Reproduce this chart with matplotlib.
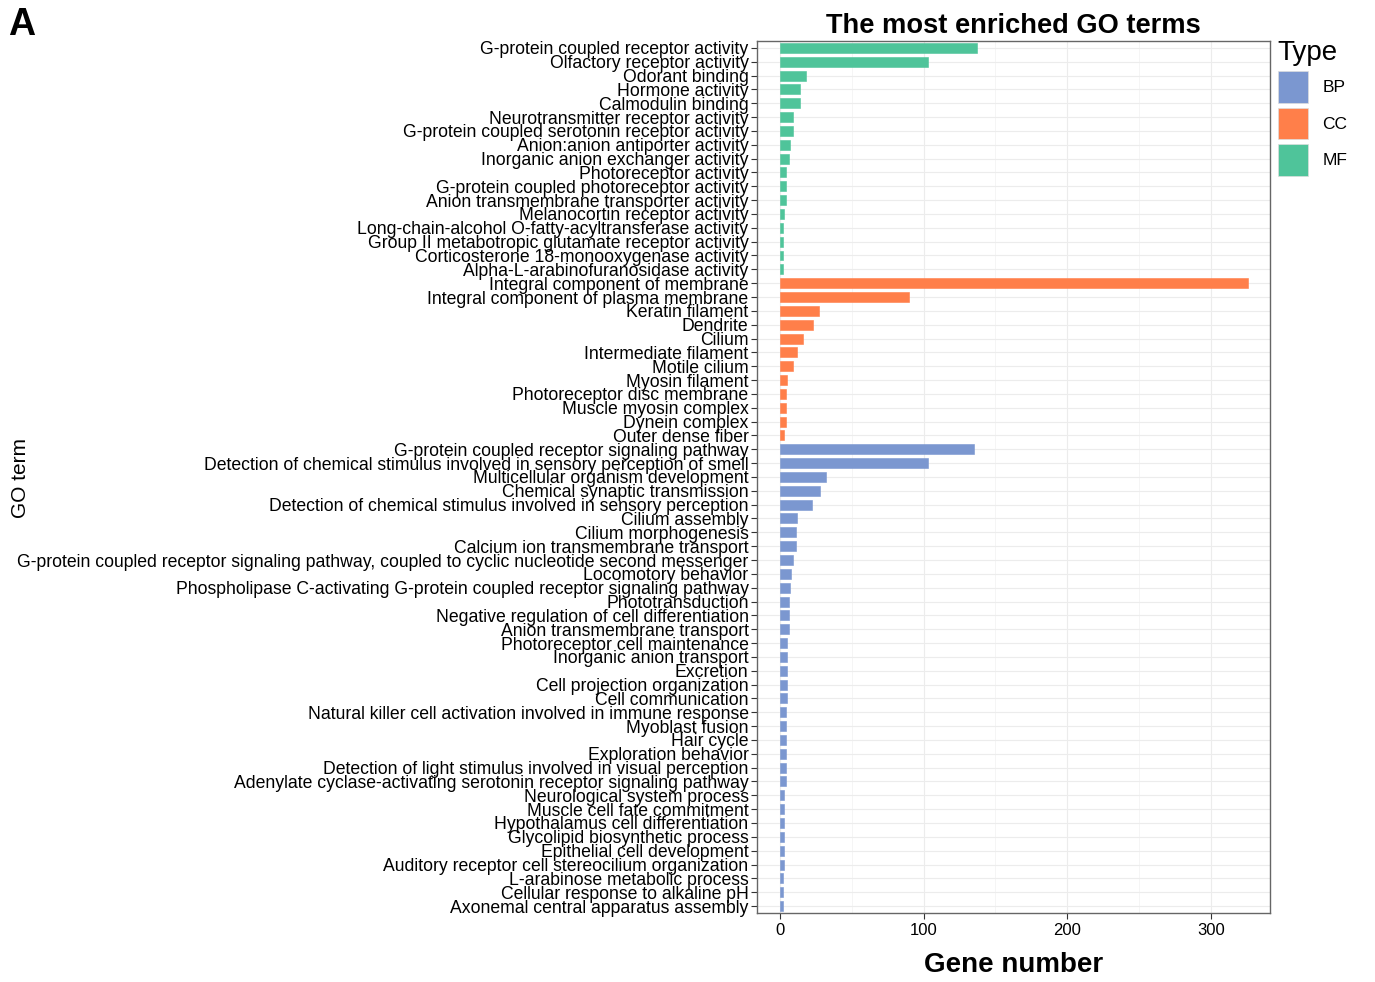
import matplotlib
matplotlib.use("Agg")
import matplotlib.pyplot as plt
from matplotlib.patches import Patch
from matplotlib.ticker import MultipleLocator

plt.rcParams['font.family'] = ['Liberation Sans', 'DejaVu Sans']

# GO terms per ontology, in plotting order (top to bottom)
mf_terms = [
    "G-protein coupled receptor activity",
    "Olfactory receptor activity",
    "Odorant binding",
    "Hormone activity",
    "Calmodulin binding",
    "Neurotransmitter receptor activity",
    "G-protein coupled serotonin receptor activity",
    "Anion:anion antiporter activity",
    "Inorganic anion exchanger activity",
    "Photoreceptor activity",
    "G-protein coupled photoreceptor activity",
    "Anion transmembrane transporter activity",
    "Melanocortin receptor activity",
    "Long-chain-alcohol O-fatty-acyltransferase activity",
    "Group II metabotropic glutamate receptor activity",
    "Corticosterone 18-monooxygenase activity",
    "Alpha-L-arabinofuranosidase activity",
]
mf_counts = [137, 103, 18, 14, 14, 9, 9, 7, 6, 4, 4, 4, 3, 2, 2, 2, 2]

cc_terms = [
    "Integral component of membrane",
    "Integral component of plasma membrane",
    "Keratin filament",
    "Dendrite",
    "Cilium",
    "Intermediate filament",
    "Motile cilium",
    "Myosin filament",
    "Photoreceptor disc membrane",
    "Muscle myosin complex",
    "Dynein complex",
    "Outer dense fiber",
]
cc_counts = [326, 90, 27, 23, 16, 12, 9, 5, 4, 4, 4, 3]

bp_terms = [
    "G-protein coupled receptor signaling pathway",
    "Detection of chemical stimulus involved in sensory perception of smell",
    "Multicellular organism development",
    "Chemical synaptic transmission",
    "Detection of chemical stimulus involved in sensory perception",
    "Cilium assembly",
    "Cilium morphogenesis",
    "Calcium ion transmembrane transport",
    "G-protein coupled receptor signaling pathway, coupled to cyclic nucleotide second messenger",
    "Locomotory behavior",
    "Phospholipase C-activating G-protein coupled receptor signaling pathway",
    "Phototransduction",
    "Negative regulation of cell differentiation",
    "Anion transmembrane transport",
    "Photoreceptor cell maintenance",
    "Inorganic anion transport",
    "Excretion",
    "Cell projection organization",
    "Cell communication",
    "Natural killer cell activation involved in immune response",
    "Myoblast fusion",
    "Hair cycle",
    "Exploration behavior",
    "Detection of light stimulus involved in visual perception",
    "Adenylate cyclase-activating serotonin receptor signaling pathway",
    "Neurological system process",
    "Muscle cell fate commitment",
    "Hypothalamus cell differentiation",
    "Glycolipid biosynthetic process",
    "Epithelial cell development",
    "Auditory receptor cell stereocilium organization",
    "L-arabinose metabolic process",
    "Cellular response to alkaline pH",
    "Axonemal central apparatus assembly",
]
bp_counts = [135, 103, 32, 28, 22, 12, 11, 11, 9, 8, 7, 6, 6, 6, 5, 5, 5, 5, 5,
             4, 4, 4, 4, 4, 4, 3, 3, 3, 3, 3, 3, 2, 2, 2]

type_names = ["BP", "CC", "MF"]
type_colors = {"BP": "#7b97d0", "CC": "#ff7f4a", "MF": "#4fc49a"}

terms = mf_terms + cc_terms + bp_terms
counts = mf_counts + cc_counts + bp_counts
types = ["MF"] * len(mf_terms) + ["CC"] * len(cc_terms) + ["BP"] * len(bp_terms)

fig = plt.figure(figsize=(13.75, 9.82), dpi=100)
ax = fig.add_axes([0.5505, 0.0703, 0.373, 0.888])

ypos = list(range(len(terms)))
ax.barh(ypos, counts, height=0.72,
        color=[type_colors[t] for t in types],
        edgecolor=[type_colors[t] for t in types], linewidth=0.4, zorder=3)

ax.set_ylim(len(terms) - 0.5, -0.5)
ax.set_xlim(-16, 341)
ax.set_yticks(ypos)
ax.set_yticklabels(terms, fontsize=12.7)
ax.xaxis.set_major_locator(MultipleLocator(100))
ax.xaxis.set_minor_locator(MultipleLocator(50))
ax.tick_params(axis='x', labelsize=12, length=4, color='#333333')
ax.tick_params(axis='x', which='minor', length=0)
ax.tick_params(axis='y', length=4, color='#333333', pad=2)

ax.grid(True, which='major', color='#ececec', linewidth=0.8, zorder=0)
ax.grid(True, which='minor', axis='x', color='#f4f4f4', linewidth=0.6, zorder=0)
for s in ax.spines.values():
    s.set_color('#666666')
    s.set_linewidth(1.0)

ax.set_title("The most enriched GO terms", fontsize=19.6, fontweight='bold', pad=6)
ax.set_xlabel("Gene number", fontsize=20, fontweight='bold', labelpad=10)
fig.text(0.015, 0.513, "GO term", rotation=90, fontsize=15, ha='center', va='center')
fig.text(0.006, 0.975, "A", fontsize=27, fontweight='bold', ha='left', va='center')

handles = [Patch(facecolor=type_colors[t], edgecolor='#dddddd', linewidth=0.5) for t in type_names]
leg = fig.legend(handles, type_names, title="Type", loc='upper left',
                 bbox_to_anchor=(0.918, 0.975), frameon=False,
                 fontsize=12.5, title_fontsize=20, handlelength=1.75, handleheight=2.4,
                 labelspacing=0.3, handletextpad=0.8)
leg._legend_box.align = "left"

fig.savefig("out.png", dpi=100)
